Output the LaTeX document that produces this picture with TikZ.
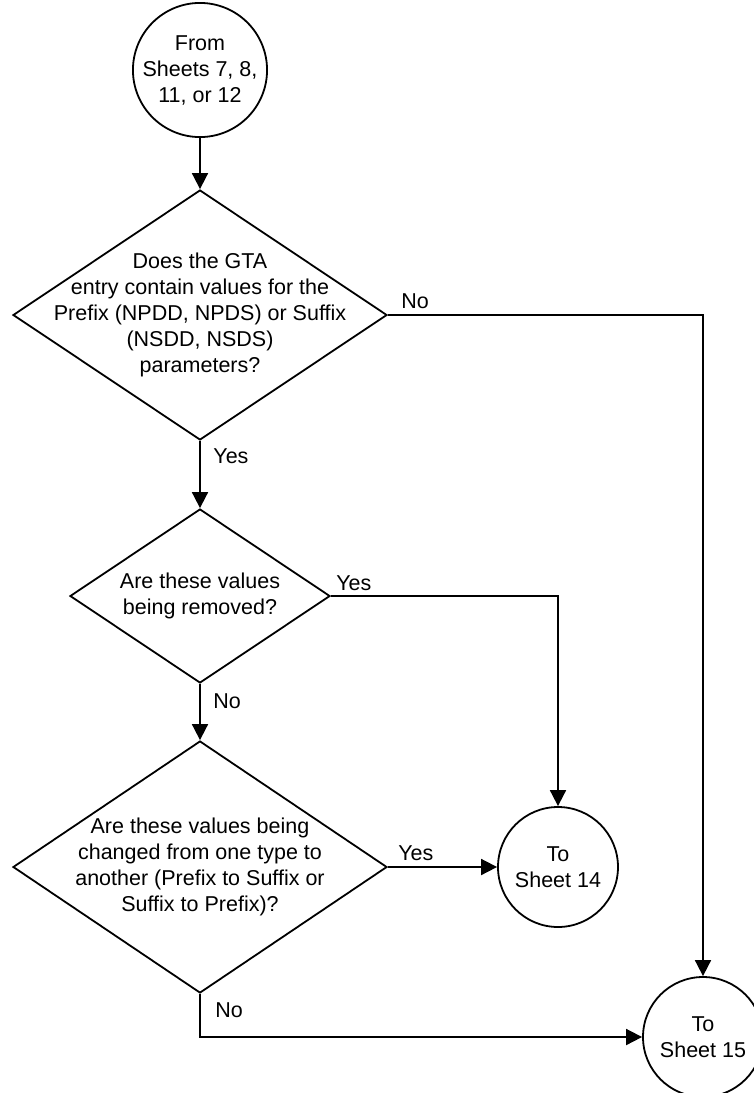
\documentclass[tikz,border=0pt]{standalone}
\usepackage{fontspec}
\setmainfont{Liberation Sans}
\usetikzlibrary{shapes.geometric,arrows.meta}

\begin{document}
\begin{tikzpicture}[x=0.5pt,y=-0.5pt,
    every node/.style={font=\fontsize{10.75}{13}\selectfont},
    sheet/.style={draw, circle, line width=0.9pt, minimum size=60pt, inner sep=0pt, align=center},
    decision/.style={draw, diamond, line width=0.9pt, inner sep=0pt},
    lbl/.style={anchor=base west, inner sep=0pt},
    flow/.style={line width=0.9pt, -{Triangle[length=8pt,width=8pt]}}]
            \clip (0,0) rectangle (754,1093);

            % Sheets in and out
            \node[sheet] (s1) at (200,70) {From\\Sheets 7, 8,\\11, or 12};
            \node[sheet] (t14) at (558,867) {To\\Sheet 14};
            \node[sheet] (t15) at (703,1037) {To\\Sheet 15};

            % Questions
            \node[decision, minimum width=187pt, minimum height=125pt] (q1) at (200,315) {};
            \node[align=center] (q1t) at (q1) {Does the GTA\\entry contain values for the\\Prefix (NPDD, NPDS) or Suffix\\(NSDD, NSDS)\\parameters?};
            \node[decision, minimum width=130pt, minimum height=87pt] (q2) at (200,596) {};
            \node[align=center] (q2t) at (q2) {Are these values\\being removed?};
            \node[decision, minimum width=187pt, minimum height=126pt] (q3) at (200,867) {};
            \node[align=center] (q3t) at (q3) {Are these values being\\changed from one type to\\another (Prefix to Suffix or\\Suffix to Prefix)?};

            % Flow
            \draw[flow] (s1) -- (q1);
            \draw[flow] (q1) -- (q2);
            \draw[flow] (q2) -- (q3);
            \draw[flow] (q1.east) -| (t15);
            \draw[flow] (q2.east) -| (t14);
            \draw[flow] (q3.east) -- (t14);
            \draw[flow] (q3.south) |- (t15);

            % Answers
            \node[lbl] (no1) at ([shift={(13,-7)}]q1.east) {No};
            \node[lbl] (yes1) at ([shift={(13,23)}]q1.south) {Yes};
            \node[lbl] (yes2) at ([shift={(5,-6)}]q2.east) {Yes};
            \node[lbl] (no2) at ([shift={(13,25)}]q2.south) {No};
            \node[lbl] (yes3) at ([shift={(10,-7)}]q3.east) {Yes};
            \node[lbl] (no3) at ([shift={(15,24)}]q3.south) {No};
\end{tikzpicture}
\end{document}
